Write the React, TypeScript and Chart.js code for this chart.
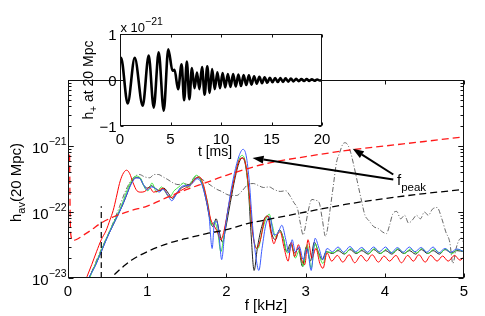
import React, { useEffect, useRef } from 'react';
import { Chart, registerables } from 'chart.js';
Chart.register(...registerables);

const FONT = '"Liberation Sans", Arial, Helvetica, sans-serif';

// ---------- main plot data (f in kHz, h_av at 20 Mpc) ----------
const redF = [0.2,0.24,0.3,0.36,0.42,0.48,0.53,0.57,0.61,0.65,0.69,0.74,0.78,0.82,0.87,0.92,0.97,1.03,1.08,1.14,1.2,1.26,1.31,1.36,1.42,1.48,1.55,1.61,1.66,1.71,1.76,1.8,1.84,1.88,1.93,1.97,2.03,2.1,2.16,2.21,2.25,2.29,2.33,2.38,2.43,2.48,2.52,2.56,2.6,2.64,2.68,2.73,2.78,2.82,2.86,2.91,2.95,2.99,3.03,3.08,3.13,3.18,3.22,3.27,3.33,3.4,3.47,3.55,3.62,3.7,3.77,3.84,3.92,3.99,4.06,4.14,4.21,4.29,4.36,4.43,4.51,4.58,4.66,4.73,4.8,4.88,4.95,5.0];
const redH = [7.9e-24,1.05e-23,1.6e-23,2.5e-23,3.8e-23,5.2e-23,7.6e-23,1.05e-22,1.66e-22,2.7e-22,3.7e-22,4.3e-22,3.8e-22,2.8e-22,2.1e-22,2.0e-22,2.05e-22,2.35e-22,2.0e-22,2.1e-22,2.3e-22,1.8e-22,1.66e-22,1.9e-22,2.1e-22,2.3e-22,2.6e-22,3.2e-22,3.4e-22,2.6e-22,1.4e-22,7.9e-23,6.3e-23,5.2e-23,3.8e-23,5.2e-23,1.26e-22,3.2e-22,6.0e-22,6.6e-22,4.8e-22,1.8e-22,5.0e-23,2.8e-23,3.8e-23,7.6e-23,8.7e-23,5.0e-23,3.3e-23,4.5e-23,5.0e-23,2.8e-23,1.8e-23,3.5e-23,2.1e-23,3.2e-23,1.9e-23,1.6e-23,3.8e-23,2.0e-23,2.8e-23,1.66e-23,1.4e-23,2.4e-23,1.8e-23,2.2e-23,1.74e-23,2.25e-23,1.7e-23,2.2e-23,1.8e-23,2.25e-23,1.74e-23,2.15e-23,1.8e-23,2.2e-23,1.7e-23,2.2e-23,1.8e-23,2.25e-23,1.74e-23,2.2e-23,1.8e-23,2.15e-23,1.8e-23,2.2e-23,1.86e-23,2.1e-23];

const blueF = [0.22,0.27,0.33,0.4,0.47,0.54,0.6,0.66,0.71,0.76,0.81,0.86,0.91,0.96,1.0,1.05,1.1,1.15,1.2,1.26,1.31,1.36,1.42,1.48,1.53,1.58,1.63,1.68,1.73,1.78,1.82,1.85,1.88,1.91,1.94,1.98,2.04,2.1,2.16,2.21,2.25,2.29,2.33,2.37,2.41,2.45,2.5,2.55,2.6,2.65,2.7,2.75,2.79,2.83,2.87,2.92,2.97,3.02,3.07,3.12,3.17,3.22,3.27,3.34,3.41,3.48,3.56,3.63,3.71,3.78,3.86,3.93,4.01,4.08,4.16,4.23,4.31,4.38,4.46,4.53,4.61,4.68,4.76,4.83,4.91,5.0];
const blueH = [7.9e-24,1.05e-23,1.4e-23,2.2e-23,3.5e-23,5.4e-23,7.6e-23,1.07e-22,1.48e-22,2.1e-22,2.8e-22,3.3e-22,3.2e-22,2.5e-22,2.15e-22,2.4e-22,2.3e-22,2.0e-22,2.2e-22,1.8e-22,1.48e-22,1.78e-22,2.35e-22,2.5e-22,2.5e-22,2.8e-22,3.2e-22,2.8e-22,1.78e-22,8.9e-23,2.8e-23,7.1e-23,7.1e-23,4.0e-23,1.9e-23,5.0e-23,1.58e-22,3.8e-22,7.1e-22,8.9e-22,7.1e-22,2.8e-22,6.3e-23,2.2e-23,1.3e-23,2.8e-23,6.6e-23,8.3e-23,4.5e-23,4.8e-23,6.3e-23,3.8e-23,2.4e-23,3.8e-23,2.5e-23,3.0e-23,1.9e-23,2.8e-23,1.3e-23,4.0e-23,2.8e-23,1.9e-23,2.8e-23,2.5e-23,2.95e-23,2.45e-23,3.0e-23,2.5e-23,2.9e-23,2.45e-23,2.95e-23,2.5e-23,2.95e-23,2.4e-23,2.9e-23,2.45e-23,2.95e-23,2.5e-23,2.9e-23,2.45e-23,2.95e-23,2.4e-23,2.8e-23,2.45e-23,2.75e-23,2.5e-23];

const greenF = [0.24,0.3,0.37,0.44,0.51,0.58,0.64,0.7,0.75,0.8,0.86,0.92,0.97,1.01,1.06,1.12,1.18,1.23,1.28,1.34,1.4,1.46,1.52,1.57,1.62,1.67,1.72,1.77,1.81,1.85,1.89,1.93,1.97,2.03,2.1,2.16,2.2,2.24,2.28,2.32,2.36,2.4,2.45,2.5,2.54,2.58,2.62,2.67,2.72,2.77,2.82,2.87,2.92,2.97,3.02,3.07,3.12,3.17,3.22,3.27,3.35,3.42,3.5,3.57,3.65,3.72,3.8,3.87,3.95,4.02,4.1,4.17,4.25,4.32,4.4,4.47,4.55,4.62,4.7,4.77,4.85,4.92,5.0];
const greenH = [7.9e-24,1.2e-23,1.9e-23,3.0e-23,4.7e-23,7.1e-23,1.0e-22,1.5e-22,2.2e-22,2.95e-22,3.5e-22,3.2e-22,2.3e-22,2.1e-22,2.75e-22,2.0e-22,2.4e-22,2.0e-22,1.66e-22,2.1e-22,2.4e-22,2.75e-22,2.3e-22,3.0e-22,3.6e-22,3.2e-22,2.2e-22,1.26e-22,6.3e-23,7.1e-23,5.0e-23,2.5e-23,4.5e-23,1.26e-22,3.3e-22,6.3e-22,7.2e-22,5.6e-22,2.2e-22,6.3e-23,3.2e-23,2.8e-23,5.0e-23,7.9e-23,9.3e-23,6.3e-23,4.2e-23,5.2e-23,4.0e-23,2.4e-23,3.2e-23,2.0e-23,2.6e-23,1.5e-23,3.2e-23,1.4e-23,3.3e-23,2.2e-23,1.66e-23,2.5e-23,2.4e-23,2.75e-23,2.35e-23,2.8e-23,2.4e-23,2.75e-23,2.35e-23,2.8e-23,2.35e-23,2.75e-23,2.4e-23,2.8e-23,2.35e-23,2.75e-23,2.4e-23,2.8e-23,2.35e-23,2.75e-23,2.4e-23,2.75e-23,2.35e-23,2.7e-23,2.5e-23];

const blackF = [0.23,0.28,0.35,0.42,0.49,0.56,0.62,0.68,0.74,0.79,0.85,0.9,0.95,1.0,1.05,1.1,1.16,1.21,1.27,1.32,1.37,1.43,1.49,1.55,1.6,1.65,1.7,1.75,1.79,1.83,1.87,1.91,1.95,1.99,2.05,2.11,2.16,2.2,2.24,2.28,2.31,2.35,2.39,2.44,2.49,2.53,2.57,2.62,2.67,2.72,2.76,2.81,2.86,2.91,2.96,3.01,3.06,3.11,3.16,3.21,3.26,3.34,3.41,3.49,3.56,3.64,3.71,3.79,3.86,3.94,4.01,4.09,4.16,4.24,4.31,4.39,4.46,4.54,4.61,4.69,4.76,4.84,4.91,5.0];
const blackH = [7.9e-24,1.1e-23,1.6e-23,2.5e-23,4.0e-23,6.0e-23,8.5e-23,1.2e-22,1.8e-22,2.6e-22,3.3e-22,3.3e-22,2.6e-22,2.3e-22,2.5e-22,2.3e-22,2.1e-22,2.3e-22,1.9e-22,1.6e-22,1.9e-22,2.3e-22,2.5e-22,2.7e-22,3.2e-22,3.3e-22,2.5e-22,1.4e-22,7.9e-23,6.0e-23,7.9e-23,5.0e-23,3.5e-23,5.6e-23,1.4e-22,3.3e-22,5.6e-22,6.6e-22,5.2e-22,2.0e-22,5.0e-23,1.3e-23,2.8e-23,5.6e-23,8.3e-23,8.7e-23,4.8e-23,3.8e-23,5.4e-23,4.0e-23,2.5e-23,3.3e-23,2.4e-23,2.8e-23,1.5e-23,3.0e-23,1.8e-23,3.5e-23,2.5e-23,1.9e-23,2.5e-23,2.35e-23,2.6e-23,2.3e-23,2.7e-23,2.35e-23,2.6e-23,2.3e-23,2.7e-23,2.35e-23,2.6e-23,2.3e-23,2.7e-23,2.35e-23,2.6e-23,2.3e-23,2.7e-23,2.35e-23,2.6e-23,2.3e-23,2.7e-23,2.4e-23,2.6e-23,2.5e-23];

const dashDotF = [0.25,0.4,0.55,0.65,0.72,0.78,0.85,0.9,0.97,1.03,1.09,1.14,1.2,1.26,1.33,1.39,1.46,1.52,1.58,1.62,1.68,1.75,1.81,1.88,1.94,2.0,2.06,2.13,2.2,2.27,2.34,2.41,2.47,2.54,2.6,2.68,2.75,2.8,2.85,2.9,2.93,2.97,3.0,3.03,3.08,3.13,3.17,3.21,3.25,3.27,3.31,3.35,3.39,3.43,3.47,3.5,3.54,3.57,3.61,3.65,3.7,3.75,3.8,3.86,3.92,3.97,4.02,4.06,4.1,4.15,4.2,4.25,4.3,4.35,4.4,4.45,4.5,4.55,4.6,4.66,4.72,4.77,4.82,4.86,4.9,4.94,4.97,5.0];
const dashDotH = [8.9e-24,2.4e-23,6.0e-23,1.2e-22,2.0e-22,2.8e-22,3.5e-22,3.7e-22,3.4e-22,3.3e-22,3.7e-22,3.7e-22,3.4e-22,3.1e-22,2.75e-22,2.6e-22,2.7e-22,2.6e-22,3.2e-22,3.5e-22,3.2e-22,2.8e-22,2.5e-22,2.2e-22,2.05e-22,1.86e-22,1.78e-22,1.78e-22,2.1e-22,2.6e-22,2.7e-22,2.5e-22,2.35e-22,2.4e-22,2.2e-22,2.05e-22,2.1e-22,1.78e-22,1.4e-22,1.1e-22,7.1e-23,4.5e-23,6.3e-23,1.0e-22,1.55e-22,1.5e-22,1.4e-22,7.9e-23,4.3e-23,5.0e-23,1.1e-22,2.5e-22,5.6e-22,7.9e-22,1.07e-21,1.12e-21,1.0e-21,7.9e-22,5.0e-22,3.0e-22,1.6e-22,8.9e-23,7.4e-23,6.0e-23,5.6e-23,5.0e-23,4.7e-23,6.3e-23,9.3e-23,1.02e-22,7.9e-23,8.9e-23,6.8e-23,7.6e-23,8.9e-23,7.9e-23,1.0e-22,8.9e-23,1.1e-22,1.17e-22,7.9e-23,5.0e-23,3.5e-23,1.66e-23,2.8e-23,3.8e-23,4.0e-23,3.2e-23];

const redDashF = [0.02,0.025,0.03,0.04,0.06,0.1,0.2,0.3,0.4,0.6,0.8,1.0,1.25,1.5,1.75,2.0,2.5,3.0,3.5,4.0,4.5,5.0];
const redDashH = [7.4e-22,1.6e-22,6.3e-23,4.2e-23,3.7e-23,3.8e-23,4.5e-23,5.4e-23,6.6e-23,8.7e-23,1.05e-22,1.23e-22,1.66e-22,2.2e-22,2.8e-22,3.6e-22,5.4e-22,6.9e-22,8.5e-22,1.0e-21,1.17e-21,1.38e-21];

const blackDashF = [0.5,0.55,0.6,0.7,0.8,1.0,1.25,1.5,1.75,2.0,2.25,2.5,3.0,3.5,4.0,4.5,5.0];
const blackDashH = [8.3e-24,1.0e-23,1.17e-23,1.5e-23,1.86e-23,2.5e-23,3.3e-23,4.0e-23,4.7e-23,5.4e-23,6.6e-23,7.6e-23,1.0e-22,1.3e-22,1.6e-22,1.9e-22,2.2e-22];

const markerF = [0.42, 0.42];
const markerH = [1.0e-23, 1.22e-22];

const xTicks = [0, 1, 2, 3, 4, 5];
const yLabelValues = [1e-23, 1e-22, 1e-21];
const yLabelExps = ['\u221223', '\u221222', '\u221221'];
const peakTipsF = [2.33, 3.595];
const peakTipsH = [6.6e-22, 9.1e-22];
const peakTailsF = [4.107, 4.107];
const peakTailsH = [3.1e-22, 3.7e-22];
const peakLabelF = 4.154;
const peakLabelH = 2.6e-22;

// ---------- inset data (t in ms, h+ in units of 1e-21) ----------
const insetT = [0.02,0.1,0.76,1.46,2.25,2.84,3.34,3.83,4.33,4.78,5.2,5.4,5.75,6.1,6.35,6.62,6.87,7.12,7.38,7.62,7.86,8.12,8.38,8.64,8.88,9.12,9.38,9.64,9.9,10.16,10.42,10.68,10.94,11.2,11.46,11.72,11.98,12.24,12.5,12.76,13.02,13.28,13.54,13.8,14.06,14.32,14.58,14.84,15.1,15.36,15.62,15.88,16.14,16.4,16.66,16.92,17.18,17.44,17.7,17.96,18.22,18.48,18.74,19.0,19.26,19.52,19.78,20.0];
const insetH = [0.46,0.48,-0.51,0.48,-0.56,0.53,-0.6,0.6,-0.67,0.67,0.2,0.22,-0.2,0.34,-0.44,0.4,-0.42,0.26,-0.18,0.16,-0.2,0.28,-0.32,0.3,-0.28,0.24,-0.2,0.17,-0.18,0.15,-0.16,0.13,-0.15,0.13,-0.14,0.12,-0.13,0.11,-0.11,0.1,-0.1,0.08,-0.08,0.07,-0.07,0.06,-0.06,0.05,-0.05,0.045,-0.045,0.04,-0.04,0.035,-0.035,0.03,-0.03,0.025,-0.025,0.02,-0.02,0.018,-0.018,0.015,-0.015,0.012,-0.012,0];
const insetXTicks = [0, 5, 10, 15, 20];
const insetYTicks = [-1, 0, 1];
const insetYLabels = ['\u22121', '0', '1'];

function pts(xs: number[], ys: number[]) {
  return xs.map((x, i) => ({ x, y: ys[i] }));
}

type Part = [string, number, number];
function drawRich(ctx: CanvasRenderingContext2D, x: number, y: number, parts: Part[], align: 'left' | 'right' | 'center') {
  let total = 0;
  const ws = parts.map(([t, s]) => {
    ctx.font = `${s}px ${FONT}`;
    const w = ctx.measureText(t).width;
    total += w;
    return w;
  });
  let cx = align === 'left' ? x : align === 'right' ? x - total : x - total / 2;
  ctx.textAlign = 'left';
  ctx.textBaseline = 'alphabetic';
  parts.forEach(([t, s, dy], i) => {
    ctx.font = `${s}px ${FONT}`;
    ctx.fillText(t, cx, y + dy);
    cx += ws[i];
  });
}

function arrow(ctx: CanvasRenderingContext2D, x0: number, y0: number, x1: number, y1: number) {
  const ang = Math.atan2(y1 - y0, x1 - x0);
  const L = 11, W = 4;
  const bx = x1 - L * Math.cos(ang), by = y1 - L * Math.sin(ang);
  ctx.beginPath();
  ctx.moveTo(x0, y0);
  ctx.lineTo(bx, by);
  ctx.lineWidth = 2;
  ctx.stroke();
  ctx.beginPath();
  ctx.moveTo(x1, y1);
  ctx.lineTo(bx + W * Math.sin(ang), by - W * Math.cos(ang));
  ctx.lineTo(bx - W * Math.sin(ang), by + W * Math.cos(ang));
  ctx.closePath();
  ctx.fill();
}

const mainDecor = {
  id: 'mainDecor',
  afterDatasetsDraw(chart: any) {
    const { ctx, chartArea: a, scales } = chart;
    const xs = scales.x, ys = scales.y;
    ctx.save();
    ctx.strokeStyle = '#111';
    ctx.fillStyle = '#000';
    ctx.lineWidth = 1;
    const L = Math.round(a.left) + 0.5, R = Math.round(a.right) - 0.5;
    const T = Math.round(a.top) + 0.5, B = Math.round(a.bottom) - 0.5;
    ctx.strokeRect(L, T, R - L, B - T);
    ctx.beginPath();
    xTicks.forEach((v) => {
      const px = Math.round(xs.getPixelForValue(v)) + 0.5;
      ctx.moveTo(px, B); ctx.lineTo(px, B - 4);
      ctx.moveTo(px, T); ctx.lineTo(px, T + 4);
    });
    for (let e = -23; e <= -21; e++) {
      for (let m = 1; m <= 10; m++) {
        const v = m * Math.pow(10, e);
        const py = Math.round(ys.getPixelForValue(v)) + 0.5;
        if (py < a.top - 1 || py > a.bottom + 1) continue;
        const len = m === 1 || m === 10 ? 5 : 3;
        ctx.moveTo(L, py); ctx.lineTo(L + len, py);
        ctx.moveTo(R, py); ctx.lineTo(R - len, py);
      }
    }
    ctx.stroke();

    // y tick labels with superscripts
    yLabelValues.forEach((v, i) => {
      const py = ys.getPixelForValue(v);
      drawRich(ctx, a.left - 1.5, py + 7, [['10', 15, 0], [yLabelExps[i], 10.5, -8.5]], 'right');
    });

    // x title
    drawRich(ctx, (a.left + a.right) / 2, 310, [['f [kHz]', 15, 0]], 'center');

    // y title
    ctx.save();
    ctx.translate(21, 182.5);
    ctx.rotate(-Math.PI / 2);
    drawRich(ctx, 0, 0, [['h', 15, 0], ['av', 11, 4], ['(20 Mpc)', 15, 0]], 'center');
    ctx.restore();

    // f_peak arrows
    ctx.strokeStyle = '#000';
    peakTipsF.forEach((f, i) => {
      arrow(ctx, xs.getPixelForValue(peakTailsF[i]), ys.getPixelForValue(peakTailsH[i]),
        xs.getPixelForValue(f), ys.getPixelForValue(peakTipsH[i]));
    });
    drawRich(ctx, xs.getPixelForValue(peakLabelF), ys.getPixelForValue(peakLabelH),
      [['f', 15, 0], ['peak', 11.5, 6]], 'left');
    ctx.restore();
  },
};

const insetDecor = {
  id: 'insetDecor',
  beforeDraw(chart: any) {
    const { ctx, chartArea: a } = chart;
    ctx.save();
    ctx.fillStyle = '#fff';
    ctx.fillRect(a.left, a.top, a.right - a.left, a.bottom - a.top);
    ctx.restore();
  },
  afterDatasetsDraw(chart: any) {
    const { ctx, chartArea: a, scales } = chart;
    const xs = scales.x, ys = scales.y;
    ctx.save();
    ctx.strokeStyle = '#111';
    ctx.fillStyle = '#000';
    ctx.lineWidth = 1;
    const L = Math.round(a.left) + 0.5, R = Math.round(a.right) - 0.5;
    const T = Math.round(a.top) + 0.5, B = Math.round(a.bottom) - 0.5;
    ctx.strokeRect(L, T, R - L, B - T);
    ctx.beginPath();
    insetXTicks.forEach((v) => {
      const px = Math.round(xs.getPixelForValue(v)) + 0.5;
      ctx.moveTo(px, B); ctx.lineTo(px, B - 3);
      ctx.moveTo(px, T); ctx.lineTo(px, T + 3);
    });
    insetYTicks.forEach((v) => {
      const py = Math.round(ys.getPixelForValue(v)) + 0.5;
      ctx.moveTo(L, py); ctx.lineTo(L + 3, py);
      ctx.moveTo(R, py); ctx.lineTo(R - 3, py);
    });
    ctx.stroke();

    insetYTicks.forEach((v, i) => {
      const py = ys.getPixelForValue(v);
      drawRich(ctx, a.left - 3.5, py + 6, [[insetYLabels[i], 15, 0]], 'right');
    });

    drawRich(ctx, a.left + 0.5, a.top - 2, [['x 10', 13, 0], ['\u221221', 10.5, -7.5]], 'left');
    drawRich(ctx, (a.left + a.right) / 2 - 6, 156, [['t [ms]', 14, 0]], 'center');
    ctx.save();
    ctx.translate(93, (a.top + a.bottom) / 2);
    ctx.rotate(-Math.PI / 2);
    drawRich(ctx, 0, 0, [['h', 14, 0], ['+', 10, 4], [' at 20 Mpc', 14, 0]], 'center');
    ctx.restore();
    ctx.restore();
  },
};

export default function App() {
  const mainRef = useRef<HTMLCanvasElement>(null);
  const insetRef = useRef<HTMLCanvasElement>(null);

  useEffect(() => {
    Chart.defaults.font.family = FONT;
    Chart.defaults.color = '#000';
    const line = (data: any, color: string, width: number, dash: number[] = []) => ({
      data,
      borderColor: color,
      borderWidth: width,
      borderDash: dash,
      pointRadius: 0,
      fill: false,
      cubicInterpolationMode: 'monotone' as const,
    });

    const main = new Chart(mainRef.current!, {
      type: 'line',
      data: {
        datasets: [
          line(pts(redDashF, redDashH), '#ff1a1a', 1.3, [7, 4]),
          line(pts(blackDashF, blackDashH), '#000', 1.3, [7, 4]),
          line(pts(markerF, markerH), '#000', 1.2, [6, 4]),
          line(pts(blueF, blueH), '#3b5bff', 1),
          line(pts(redF, redH), '#ff0000', 1),
          line(pts(greenF, greenH), '#3ee83e', 1),
          line(pts(blackF, blackH), '#222', 1),
          line(pts(dashDotF, dashDotH), '#555', 0.9, [5, 2, 1, 2]),
        ],
      },
      options: {
        responsive: false,
        animation: false,
        devicePixelRatio: 1,
        parsing: false,
        layout: { padding: { left: 68, top: 80, right: 21, bottom: 0 } },
        plugins: { legend: { display: false }, tooltip: { enabled: false } },
        scales: {
          x: {
            type: 'linear', min: 0, max: 5,
            grid: { display: false, drawTicks: false },
            border: { display: false },
            ticks: { stepSize: 1, padding: 5, font: { size: 15 }, color: '#000', maxRotation: 0, callback: (v: any) => String(v) },
            afterFit: (s: any) => { s.height = 38; },
          },
          y: { type: 'logarithmic', min: 1e-23, max: 1e-20, display: false },
        },
      },
      plugins: [mainDecor],
    } as any);

    const inset = new Chart(insetRef.current!, {
      type: 'line',
      data: {
        datasets: [line(pts(insetT, insetH), '#000', 2.6)],
      },
      options: {
        responsive: false,
        animation: false,
        devicePixelRatio: 1,
        parsing: false,
        layout: { padding: { left: 120, top: 34, right: 163, bottom: 170 } },
        plugins: { legend: { display: false }, tooltip: { enabled: false } },
        scales: {
          x: {
            type: 'linear', min: 0, max: 20,
            grid: { display: false, drawTicks: false },
            border: { display: false },
            ticks: { stepSize: 5, padding: 5, font: { size: 15 }, color: '#000', maxRotation: 0, callback: (v: any) => String(v) },
            afterFit: (s: any) => { s.height = 20; },
          },
          y: { type: 'linear', min: -1, max: 1, display: false },
        },
      },
      plugins: [insetDecor],
    } as any);

    return () => {
      main.destroy();
      inset.destroy();
    };
  }, []);

  return (
    <div style={{ position: 'fixed', left: 0, top: 0, width: 485, height: 316, background: '#fff' }}>
      <canvas ref={mainRef} width={485} height={316} style={{ position: 'absolute', left: 0, top: 0, width: 485, height: 316 }} />
      <canvas ref={insetRef} width={485} height={316} style={{ position: 'absolute', left: 0, top: 0, width: 485, height: 316 }} />
    </div>
  );
}
